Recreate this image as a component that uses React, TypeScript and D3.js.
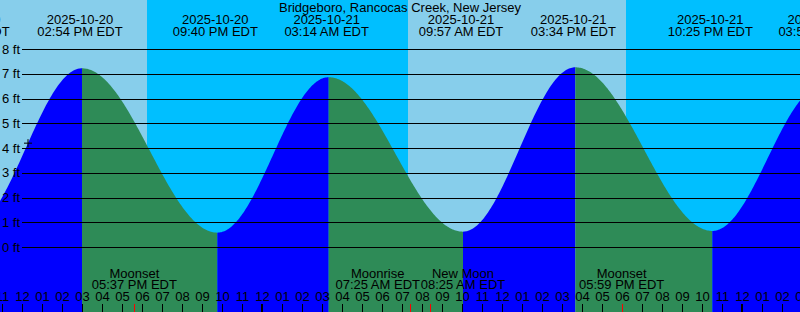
import React, { useMemo } from "react";
import * as d3 from "d3";

// ---------- data ----------
const stationName = "Bridgeboro, Rancocas Creek, New Jersey";
const tideDates = ["2025-10-20", "2025-10-20", "2025-10-20", "2025-10-21", "2025-10-21", "2025-10-21", "2025-10-21", "2025-10-22"];
const tideClock = ["09:16", "14:54", "21:40", "03:14", "09:57", "15:34", "22:25", "03:56"];
const tideHeights = [0.75, 7.22, 0.58, 6.86, 0.62, 7.26, 0.65, 6.5];

const sunDates = ["2025-10-20", "2025-10-21", "2025-10-21"];
const sunClock = ["18:15", "07:18", "18:12"];
const sunKinds = ["set", "rise", "set"];

const moonNames = ["Moonset", "Moonrise", "New Moon", "Moonset"];
const moonDates = ["2025-10-20", "2025-10-21", "2025-10-21", "2025-10-21"];
const moonClock = ["17:37", "07:25", "08:25", "17:59"];

const nowDate = "2025-10-20";
const nowClock = "12:18";

const yTicks = [0, 1, 2, 3, 4, 5, 6, 7, 8];
const viewStart = ["2025-10-20", "10:54"];
const viewEnd = ["2025-10-22", "02:54"];
const curveLagMinutes = 6;

// ---------- helpers ----------
const W = 800;
const H = 312;
const FONT = '"Liberation Sans", Arial, sans-serif';
const FS = 13;

function toDate(day: string, clock: string) {
  const [y, m, d] = day.split("-").map(Number);
  const [hh, mm] = clock.split(":").map(Number);
  return new Date(Date.UTC(y, m - 1, d, hh, mm));
}
const fmtClock = d3.utcFormat("%I:%M %p");

export default function App() {
  const x = d3.scaleUtc().domain([toDate(viewStart[0], viewStart[1]), toDate(viewEnd[0], viewEnd[1])]).range([0, W]);
  const y = d3.scaleLinear().domain([0, 8]).range([247, 49]);

  const tides = tideDates.map((d, i) => ({ t: toDate(d, tideClock[i]), h: tideHeights[i], date: d }));
  const lag = curveLagMinutes * 60000;

  const level = (t: number) => {
    const tt = t - lag;
    for (let i = 0; i < tides.length - 1; i++) {
      const a = +tides[i].t, b = +tides[i + 1].t;
      if (tt >= a && tt <= b) {
        const f = (tt - a) / (b - a);
        return tides[i].h + (tides[i + 1].h - tides[i].h) * (1 - Math.cos(Math.PI * f)) / 2;
      }
    }
    return tt < +tides[0].t ? tides[0].h : tides[tides.length - 1].h;
  };

  // water segments
  const segments: { d: string; fill: string }[] = [];
  const area = d3.area<[number, number]>().x((p) => p[0]).y0(H).y1((p) => p[1]);
  for (let i = 0; i < tides.length - 1; i++) {
    const x0 = Math.max(0, x(new Date(+tides[i].t + lag)));
    const x1 = Math.min(W, x(new Date(+tides[i + 1].t + lag)));
    if (x1 <= x0) continue;
    const pts: [number, number][] = [];
    for (let px = x0; px < x1; px += 1) pts.push([px, y(level(+x.invert(px)))]);
    pts.push([x1, y(level(+x.invert(x1)))]);
    const rising = tides[i + 1].h > tides[i].h;
    segments.push({ d: area(pts) || "", fill: rising ? "#0000ff" : "#2e8b57" });
  }

  // day / night bands
  const sunTimes = sunDates.map((d, i) => ({ x: x(toDate(d, sunClock[i])), kind: sunKinds[i] }));
  const bands: { x0: number; x1: number; day: boolean }[] = [];
  let cur = 0;
  let isDay = sunTimes[0].kind === "set";
  sunTimes.forEach((s) => {
    bands.push({ x0: cur, x1: s.x, day: isDay });
    cur = s.x;
    isDay = s.kind === "rise";
  });
  bands.push({ x0: cur, x1: W, day: isDay });

  // hour ticks
  const hours = d3.utcHour.range(d3.utcHour.offset(x.domain()[0], -1), d3.utcHour.offset(x.domain()[1], 2));
  const fmtHour = d3.utcFormat("%I");

  // moon labels with overlap resolution
  const moonLabels = useMemo(() => {
    const canvas = document.createElement("canvas");
    const ctx = canvas.getContext("2d")!;
    ctx.font = `${FS}px ${FONT}`;
    const items = moonNames.map((n, i) => {
      const t = toDate(moonDates[i], moonClock[i]);
      const l2 = fmtClock(t) + " EDT";
      const w = Math.max(ctx.measureText(n).width, ctx.measureText(l2).width);
      return { name: n, time: l2, tx: x(t), cx: x(t), w };
    });
    for (let iter = 0; iter < 20; iter++) {
      for (let i = 0; i < items.length - 1; i++) {
        const a = items[i], b = items[i + 1];
        const need = (a.w + b.w) / 2;
        const dist = b.cx - a.cx;
        if (dist < need) {
          const push = (need - dist) / 2;
          a.cx -= push;
          b.cx += push;
        }
      }
    }
    return items;
  }, []);

  const nowT = toDate(nowDate, nowClock);
  const nowX = x(nowT);
  const nowY = y(level(+nowT));

  return (
    <div style={{ position: "absolute", left: 0, top: 0 }}>
      <svg width={W} height={H} style={{ display: "block" }} fontFamily={FONT} fontSize={FS}>
        {bands.map((b, i) => (
          <rect key={i} x={b.x0} y={0} width={b.x1 - b.x0} height={H} fill={b.day ? "#87ceeb" : "#00bfff"} />
        ))}
        {segments.map((s, i) => (
          <path key={i} d={s.d} fill={s.fill} />
        ))}
        {yTicks.map((v) => (
          <g key={v}>
            <line x1={22} x2={W} y1={Math.round(y(v)) + 0.5} y2={Math.round(y(v)) + 0.5} stroke="#000" strokeWidth={1} />
            <text x={20} y={y(v) + 4.5} textAnchor="end" fill="#000">{`${v} ft`}</text>
          </g>
        ))}
        <text x={W / 2} y={12} textAnchor="middle" fill="#000">{stationName}</text>
        {tides.map((t, i) => (
          <g key={i}>
            <text x={x(t.t)} y={24} textAnchor="middle" fill="#000">{t.date}</text>
            <text x={x(t.t)} y={36} textAnchor="middle" fill="#000">{fmtClock(t.t) + " EDT"}</text>
          </g>
        ))}
        {moonLabels.map((m, i) => (
          <g key={i}>
            <text x={m.cx} y={277.5} textAnchor="middle" fill="#000">{m.name}</text>
            <text x={m.cx} y={289} textAnchor="middle" fill="#000">{m.time}</text>
          </g>
        ))}
        {hours.map((h, i) => {
          const hx = Math.round(x(h));
          const midnight = h.getUTCHours() === 0;
          return (
            <g key={i}>
              <line x1={hx + (midnight ? 0 : 0.5)} x2={hx + (midnight ? 0 : 0.5)} y1={304} y2={H} stroke="#000" strokeWidth={midnight ? 2 : 1} />
              <text x={hx + 0.5} y={301} textAnchor="middle" fill="#000">{fmtHour(h)}</text>
            </g>
          );
        })}
        {moonLabels.map((m, i) => (
          <line key={i} x1={Math.round(m.tx) + 0.5} x2={Math.round(m.tx) + 0.5} y1={304} y2={H} stroke="#ff0000" strokeWidth={1} />
        ))}
        <line x1={nowX - 4} x2={nowX + 4} y1={nowY} y2={nowY} stroke="#000" strokeWidth={1} />
        <line x1={nowX} x2={nowX} y1={nowY - 4} y2={nowY + 4} stroke="#000" strokeWidth={1} />
      </svg>
    </div>
  );
}
